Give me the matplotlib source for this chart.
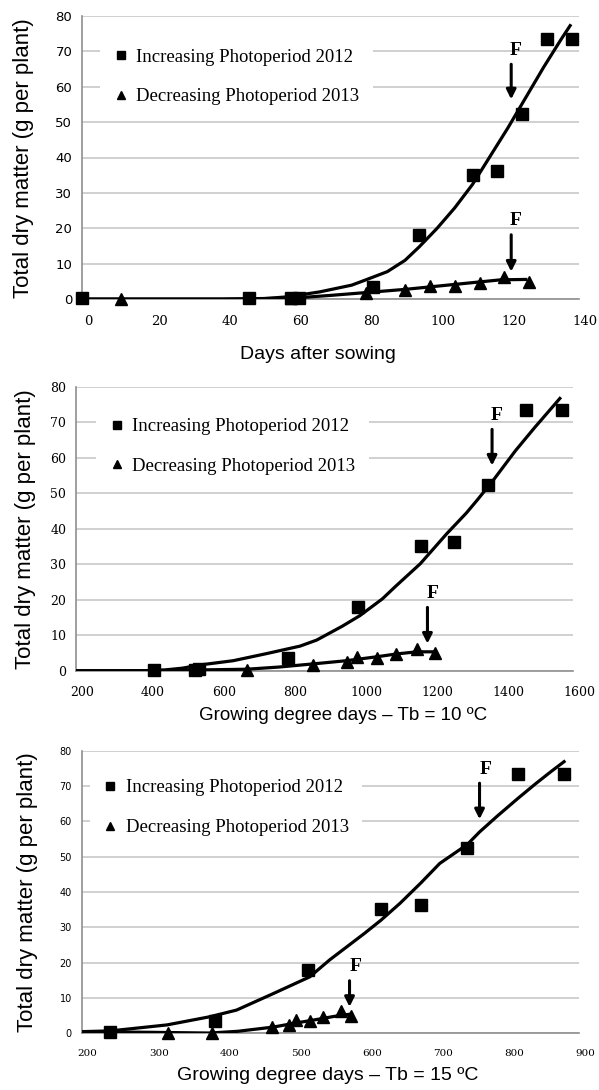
import matplotlib
matplotlib.use("Agg")
import matplotlib.pyplot as plt
from matplotlib.lines import Line2D
from matplotlib.transforms import ScaledTranslation

W, H = 599, 1090

# Total dry matter (g per plant) of the observations
tdm_2012 = [0.3, 0.3, 0.3, 0.5, 3.6, 18.0, 35.2, 36.3, 52.4, 73.5, 73.5]
tdm_2013 = [0.2, 0.3, 1.8, 2.5, 3.8, 3.7, 4.7, 6.3, 5.0]

# Panel 1: days after sowing
days_2012 = [0, 47, 59, 61, 82, 95, 110, 117, 124, 131, 138]
days_2013 = [11, 59, 80, 91, 98, 105, 112, 119, 126]
fit_days_2012 = [0, 20, 40, 50, 58, 67, 76, 80, 86, 91, 95, 100, 105, 110, 115, 120, 125, 130, 135, 137.5]
fit_tdm_days_2012 = [0.0, 0.0, 0.0, 0.1, 0.7, 2.1, 4.0, 5.5, 7.8, 11.0, 14.8, 20.0, 25.8, 32.4, 40.4, 48.4, 56.9, 65.4, 73.4, 77.2]
fit_days_2013 = [0, 20, 40, 59, 70, 80, 91, 101, 110, 118, 125]
fit_tdm_days_2013 = [0.1, 0.1, 0.1, 0.3, 1.1, 1.9, 2.8, 3.8, 4.7, 5.5, 5.6]

# Panel 2: growing degree days, Tb = 10 C (points visible in the window)
gdd10_2012 = [421, 536, 547, 797, 995, 1171, 1264, 1361, 1469, 1568]
tdm_gdd10_2012 = [0.3, 0.3, 0.5, 3.6, 18.0, 35.2, 36.3, 52.4, 73.5, 73.5]
gdd10_2013 = [681, 868, 962, 992, 1047, 1101, 1160, 1211]
tdm_gdd10_2013 = [0.3, 1.8, 2.5, 3.8, 3.7, 4.7, 6.3, 5.0]
fit_gdd10_2012 = [200, 300, 400, 450, 500, 549, 643, 737, 831, 878, 950, 1000, 1063, 1100, 1170, 1245, 1300, 1331, 1374, 1438, 1492, 1563]
fit_tdm_gdd10_2012 = [0.0, 0.0, 0.1, 0.3, 0.8, 1.7, 2.9, 4.9, 7.0, 8.7, 12.6, 15.6, 20.3, 23.8, 30.2, 38.7, 44.5, 48.2, 53.5, 62.0, 68.5, 76.7]
fit_gdd10_2013 = [200, 400, 549, 681, 770, 868, 962, 1047, 1103, 1160, 1211]
fit_tdm_gdd10_2013 = [0.1, 0.1, 0.3, 0.5, 1.1, 2.0, 2.9, 4.0, 4.8, 5.4, 5.4]

# Panel 3: growing degree days, Tb = 15 C
gdd15_2012 = [240, 388, 518, 621, 678, 743, 814, 879]
tdm_gdd15_2012 = [0.5, 3.6, 18.0, 35.2, 36.3, 52.4, 73.5, 73.5]
gdd15_2013 = [321, 384, 468, 492, 501, 522, 540, 565, 579]
tdm_gdd15_2013 = [0.2, 0.2, 1.8, 2.5, 3.9, 3.6, 4.7, 6.3, 5.0]
fit_gdd15_2012 = [200, 240, 320, 380, 418, 470, 521, 549, 598, 621, 648, 677, 704, 743, 760, 785, 814, 838, 860, 879]
fit_tdm_gdd15_2012 = [0.5, 0.7, 2.4, 4.7, 6.6, 11.3, 16.0, 20.8, 28.3, 32.0, 36.8, 42.5, 48.1, 53.5, 57.0, 61.5, 66.5, 70.5, 74.0, 76.9]
fit_gdd15_2013 = [200, 300, 380, 420, 470, 500, 530, 555, 580]
fit_tdm_gdd15_2013 = [0.5, 0.3, 0.1, 0.6, 1.8, 2.9, 3.9, 4.8, 5.5]

# flowering (F) arrows: (x of arrow, tail y, tip y)
flower_days = [(120.9, 66.3, 56.4), (120.9, 18.2, 7.8)]
flower_gdd10 = [(1372, 68.0, 57.8), (1190, 17.9, 7.7)]
flower_gdd15 = [(760, 70.8, 60.6), (577, 14.9, 7.5)]

labels = ["Increasing Photoperiod 2012", "Decreasing Photoperiod 2013"]


def rect(l, r, t, b):
    return [l / W, 1 - b / H, (r - l) / W, (b - t) / H]


def panel(ax, xs12, ys12, xs13, ys13, fx12, fy12, fx13, fy13, flowers,
          xlim, xticks, ytick_font, ytick_size, xtick_size, f_dx, leg_xy):
    ax.set_xlim(*xlim)
    ax.set_ylim(0, 80)
    ax.set_xticks(xticks)
    ax.set_yticks(range(0, 81, 10))
    ax.grid(axis="y", color="#c4c4c4", lw=1.1)
    ax.set_axisbelow(True)
    for s in ["top", "right"]:
        ax.spines[s].set_visible(False)
    for s in ["left", "bottom"]:
        ax.spines[s].set_color("#8f8f8f")
        ax.spines[s].set_linewidth(1.2)
    ax.tick_params(length=0)
    ax.tick_params(axis="x", pad=11)
    ax.tick_params(axis="y", pad=7)

    ax.plot(fx12, fy12, color="black", lw=2.3, zorder=3)
    ax.plot(fx13, fy13, color="black", lw=2.3, zorder=3)
    ax.plot(xs12, ys12, "s", color="black", ms=8.3, zorder=4, clip_on=False)
    ax.plot(xs13, ys13, "^", color="black", ms=8.3, zorder=4, clip_on=False)

    for x, y0, y1 in flowers:
        ax.annotate("", xy=(x, y1), xytext=(x, y0),
                    arrowprops=dict(arrowstyle="-|>", color="black", lw=2.2,
                                    mutation_scale=14, shrinkA=0, shrinkB=0))
        ax.text(x + f_dx, y0 + 4, "F", fontsize=14, fontweight="bold",
                family="Liberation Serif", ha="center", va="center")

    handles = [Line2D([], [], ls="", marker="s", color="black", ms=6),
               Line2D([], [], ls="", marker="^", color="black", ms=6)]
    leg = ax.legend(handles, labels, loc="upper left", bbox_to_anchor=leg_xy,
                    borderaxespad=0, borderpad=0.7, handlelength=0.8,
                    handletextpad=0.45, labelspacing=1.2, frameon=True,
                    prop={"family": "Liberation Serif", "size": 13.5})
    leg.get_frame().set_facecolor("white")
    leg.get_frame().set_edgecolor("none")
    leg.get_frame().set_alpha(1)

    for lbl in ax.get_yticklabels():
        lbl.set_family(ytick_font)
        lbl.set_fontsize(ytick_size)
    shift = ScaledTranslation(6 / 100, 0, ax.figure.dpi_scale_trans)
    for lbl in ax.get_xticklabels():
        lbl.set_family("DejaVu Serif")
        lbl.set_fontsize(xtick_size)
        lbl.set_transform(lbl.get_transform() + shift)


fig = plt.figure(figsize=(W / 100, H / 100), dpi=100)

ax1 = fig.add_axes(rect(82, 579, 15.7, 299.3))
panel(ax1, days_2012, tdm_2012, days_2013, tdm_2013,
      fit_days_2012, fit_tdm_days_2012, fit_days_2013, fit_tdm_days_2013,
      flower_days, (0, 140), range(0, 141, 20), "DejaVu Sans", 9.5, 9.5, 1.3, (0.036, 0.93))

ax2 = fig.add_axes(rect(76, 573, 386.7, 671))
panel(ax2, gdd10_2012, tdm_gdd10_2012, gdd10_2013, tdm_gdd10_2013,
      fit_gdd10_2012, fit_tdm_gdd10_2012, fit_gdd10_2013, fit_tdm_gdd10_2013,
      flower_gdd10, (200, 1600), range(200, 1601, 200), "DejaVu Serif", 9, 9, 14, (0.04, 0.935))

ax3 = fig.add_axes(rect(81.7, 579, 750.7, 1033.4))
panel(ax3, gdd15_2012, tdm_gdd15_2012, gdd15_2013, tdm_gdd15_2013,
      fit_gdd15_2012, fit_tdm_gdd15_2012, fit_gdd15_2013, fit_tdm_gdd15_2013,
      flower_gdd15, (200, 900), range(200, 901, 100), "DejaVu Sans", 7, 7.5, 8, (0.016, 0.945))

ylab = "Total dry matter (g per plant)"
for xc, yc in [(24, 158), (26, 529), (27.5, 892)]:
    fig.text(xc / W, 1 - yc / H, ylab, rotation=90, ha="center", va="center",
             family="Liberation Sans", fontsize=16)

fig.text(318 / W, 1 - 355 / H, "Days after sowing", ha="center", va="center",
         family="Liberation Sans", fontsize=14)
fig.text(343 / W, 1 - 716 / H, "Growing degree days \u2013 Tb = 10 \u00baC", ha="center",
         va="center", family="Liberation Sans", fontsize=13.5)
fig.text(328 / W, 1 - 1075 / H, "Growing degree days \u2013 Tb = 15 \u00baC", ha="center",
         va="center", family="Liberation Sans", fontsize=14)

fig.savefig("out.png", dpi=100)
